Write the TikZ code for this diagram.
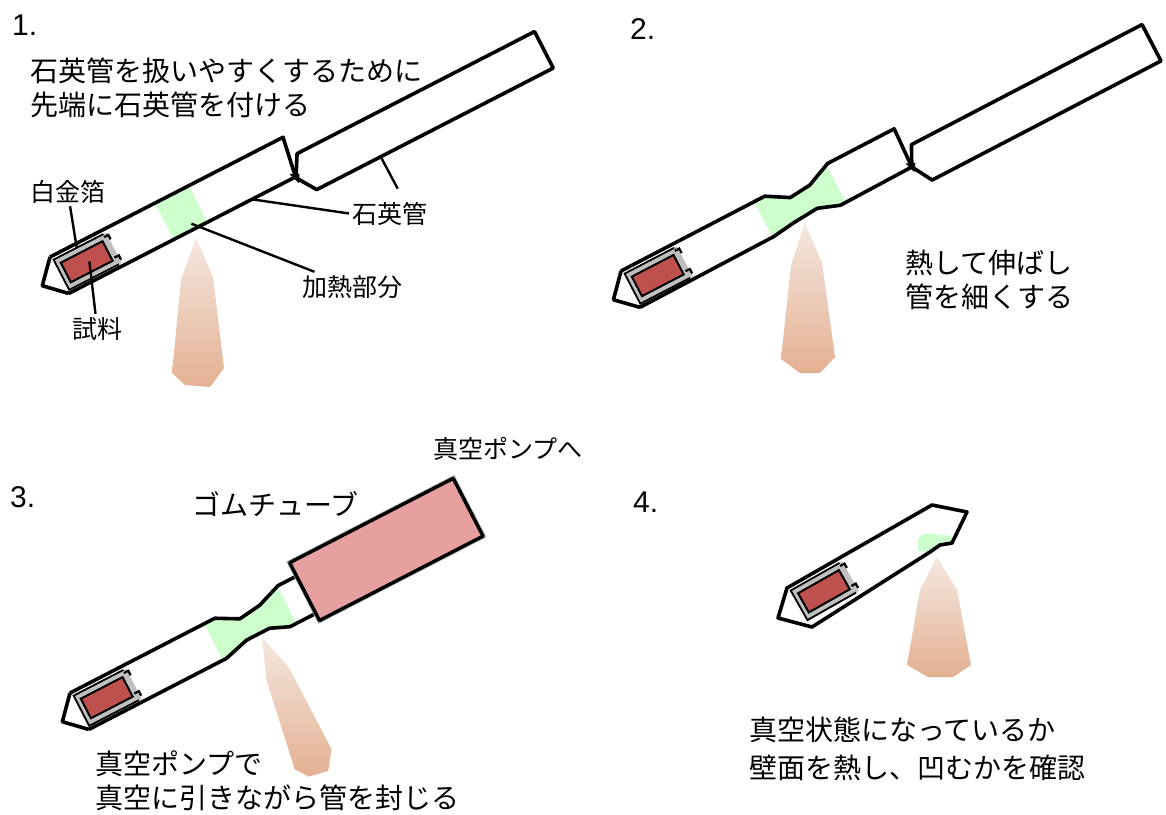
\documentclass[tikz,border=0pt]{standalone}
\usepackage{fontspec}
\setmainfont{Liberation Sans}
\newfontfamily\jpfont{Noto Sans CJK JP}
\usetikzlibrary{calc}

\definecolor{heatgreen}{RGB}{204,255,204}
\definecolor{samplered}{RGB}{192,80,77}
\definecolor{foilgray}{RGB}{192,192,192}
\definecolor{rubberpink}{RGB}{230,160,160}
\definecolor{flametop}{RGB}{244,232,224}
\definecolor{flamebot}{RGB}{228,176,146}

\tikzset{
  tube/.style={draw=black, line width=3.6pt, line join=round},
  heat/.style={fill=heatgreen},
  sample/.style={fill=samplered, draw=black, line width=2pt},
  rubber/.style={fill=rubberpink, draw=black, line width=3.4pt, line join=round},
  flame/.style={top color=flametop, bottom color=flamebot, draw=none},
  leader/.style={draw=black, line width=2.4pt},
  stepno/.style={font=\fontsize{30}{36}\selectfont, inner sep=0pt, anchor=base west},
  note/.style={font=\jpfont\fontsize{28}{34}\selectfont, inner sep=0pt, anchor=base west},
  tag/.style={font=\jpfont\fontsize{25}{30}\selectfont, inner sep=3pt, anchor=base west},
}

% platinum foil folded round the sample (tube coordinates)
\newcommand{\foilpacket}{%
  \fill[foilgray] (2,4) rectangle (61,38);
  \draw[black, line width=1.8pt] (58,4) -- (2,4) -- (2,38) -- (58,38);
  \draw[black, line width=2.2pt] (57,7) -- (62,7) -- (62,12);
  \draw[black, line width=2.2pt] (57,30) -- (62,30) -- (62,35);
  \draw[sample] (7,10) rectangle (54,32);
}

\begin{document}
\begin{tikzpicture}[x=1pt, y=-1pt]
\useasboundingbox (0,0) rectangle (1166,814);

% 1. joining the handle
\node[stepno] (no1) at (12,35) {1.};
\node[note] (txt1a) at (30,81) {石英管を扱いやすくするために};
\node[note] (txt1b) at (30,115) {先端に石英管を付ける};

\shade[flame] (196,238) -- (213,277) -- (224,368) -- (210,387) -- (185,385) -- (172,373) -- (181,280) -- cycle;

\begin{scope}[shift={(50,257)}, rotate=27.2]
  \fill[heat] (118,0) rectangle (156,41);
  \foilpacket
  \draw[tube] (0,0) -- (-20,22) -- (0,41);
  \draw[tube] (0,0) -- (262,0) -- (255,41) -- (0,41);
  \draw[tube] (255,42) -- (267,21) -- (534,21) -- (534,62) -- (268,62) -- cycle;
  \fill (251,36) -- (260,40) -- (255,48) -- cycle;
  \coordinate (foil-top) at (28,4);
  \coordinate (sample-mid) at (33,22);
  \coordinate (tube-edge) at (206,41);
  \coordinate (handle-edge) at (340,62);
  \coordinate (heat-mid) at (141,35);
\end{scope}

\node[tag] (foil-lbl) at (27,201) {白金箔};
\node[tag] (sample-lbl) at (69,338) {試料};
\node[tag] (quartz-lbl) at (349,223) {石英管};
\node[tag] (heat-lbl) at (299,296) {加熱部分};

\draw[leader] (foil-lbl) -- (foil-top);
\draw[leader] (sample-mid) -- (sample-lbl);
\draw[leader] (quartz-lbl.west) -- (tube-edge);
\draw[leader] ([xshift=8pt, yshift=10pt]quartz-lbl.north) -- (handle-edge);
\draw[leader] (heat-lbl) -- (heat-mid);

% 2. drawing out the neck
\node[stepno] (no2) at (630,39) {2.};
\node[note] (txt2a) at (905,273) {熱して伸ばし};
\node[note] (txt2b) at (905,307) {管を細くする};

\shade[flame] (805,223) -- (822,263) -- (835,357) -- (820,373) -- (800,373) -- (781,359) -- (791,265) -- cycle;

\begin{scope}[shift={(621,271)}, rotate=27.5]
  \fill[heat] (150,0) -- (162,0) -- (184,13) -- (207,11) -- (231,1) -- (231,43) -- (225,43) -- (203,35) -- (175,37) -- (151,40) -- (150,41) -- cycle;
  \foilpacket
  \draw[tube] (0,0) -- (-20,22) -- (0,41);
  \draw[tube] (0,0) -- (162,0) -- (184,13) -- (207,11) -- (233,0) -- (308,0) -- (306,42)
    -- (225,43) -- (203,35) -- (175,37) -- (151,40) -- (0,41);
  \draw[tube] (306,42) -- (316,22) -- (576,22) -- (576,63) -- (318,63) -- cycle;
  \fill (302,36) -- (311,40) -- (306,48) -- cycle;
\end{scope}

% 3. sealing under vacuum
\node[stepno] (no3) at (10,507) {3.};
\node[tag, inner sep=0pt] (pump-lbl) at (433,458) {真空ポンプへ};
\node[note] (rubber-lbl) at (192,515) {ゴムチューブ};
\node[note] (txt3a) at (95,774) {真空ポンプで};
\node[note] (txt3b) at (95,808) {真空に引きながら管を封じる};

\begin{scope}[shift={(262,637)}, rotate=22, xscale=0.8]
  \shade[flame] (0,0) -- (17,39) -- (28,130) -- (14,149) -- (-11,147) -- (-24,135) -- (-15,42) -- cycle;
\end{scope}

\begin{scope}[shift={(70,693)}, rotate=27.3]
  \fill[heat] (151,0) -- (163,0) -- (185,12) -- (209,9) -- (233,0) -- (233,42) -- (226,42) -- (207,34) -- (181,34) -- (155,41) -- (151,41) -- cycle;
  \foilpacket
  \draw[tube] (0,0) -- (-20,22) -- (0,41);
  \draw[tube] (0,0) -- (163,0) -- (185,12) -- (209,9) -- (234,0) -- (260,0);
  \draw[tube] (260,42) -- (226,42) -- (207,34) -- (181,34) -- (155,41) -- (0,41);
  \draw[line width=5pt, black!35] (255,-15) rectangle (439,50);
  \draw[rubber] (255,-15) rectangle (439,50);
\end{scope}

% 4. checking the vacuum
\node[stepno] (no4) at (633,512) {4.};
\node[note] (txt4a) at (749,740) {真空状態になっているか};
\node[note] (txt4b) at (749,778) {壁面を熱し、凹むかを確認};

\shade[flame] (937,557) -- (957,590) -- (971,665) -- (953,677) -- (928,677) -- (907,665) -- (920,590) -- cycle;

\fill[heat] (918,551) -- (918,541) .. controls (919,534) and (925,533) .. (935,534) -- (951,536) -- (954,543) -- (940,545) -- (930,552) -- cycle;
\begin{scope}[shift={(787,588)}, rotate=29.5]
  \foilpacket
\end{scope}
\draw[tube] (787,588) -- (932,505) -- (967,512) -- (952,543) -- (940,545) -- (930,552) -- (812,627) -- (778,618) -- cycle;

\end{tikzpicture}
\end{document}
